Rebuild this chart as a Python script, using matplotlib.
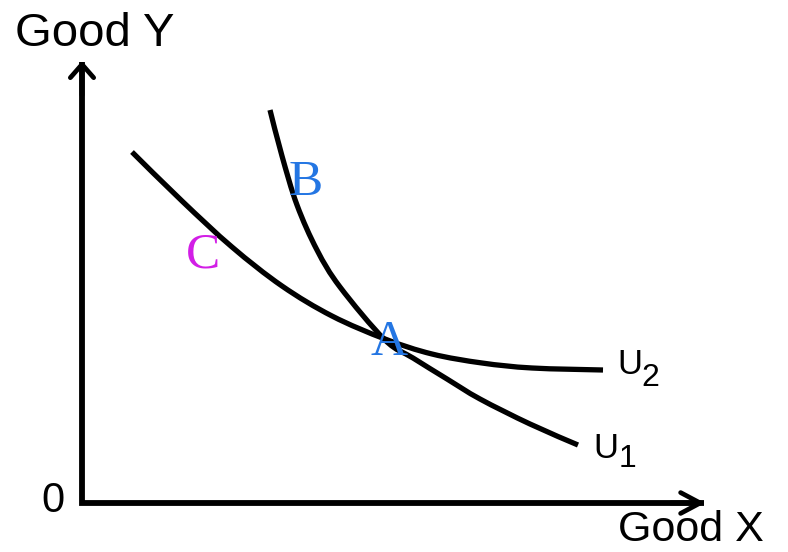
import matplotlib
matplotlib.use("Agg")
from matplotlib import pyplot as plt
from matplotlib.path import Path
from matplotlib.patches import PathPatch

# indifference curves (origin of the axes = 0,0)
u1_x = [188, 200, 215, 235, 258, 303, 331, 365, 398, 448, 496]
u1_y = [393, 347, 298, 253, 216, 163, 145, 124, 104, 79, 58]

u2_x = [50, 100, 150, 200, 250, 303, 350, 400, 450, 521]
u2_y = [351, 302, 256, 217, 187, 164, 149, 140, 135, 133]

# labelled points (A, B, C)
pt_names = ['A', 'B', 'C']
pt_x = [307, 224, 121]
pt_y = [160, 320, 248]
pt_colors = ['#2476e3', '#2476e3', '#d21ee6']

x_top = 626   # end of the x axis arrow
y_top = 445   # end of the y axis arrow


def smooth_path(xs, ys):
    # catmull-rom through the points, drawn as cubic bezier segments
    pts = list(zip(xs, ys))
    verts = [pts[0]]
    codes = [Path.MOVETO]
    for i in range(len(pts) - 1):
        p0 = pts[i - 1] if i > 0 else pts[i]
        p1 = pts[i]
        p2 = pts[i + 1]
        p3 = pts[i + 2] if i + 2 < len(pts) else pts[i + 1]
        c1 = (p1[0] + (p2[0] - p0[0]) / 6, p1[1] + (p2[1] - p0[1]) / 6)
        c2 = (p2[0] - (p3[0] - p1[0]) / 6, p2[1] - (p3[1] - p1[1]) / 6)
        verts += [c1, c2, p2]
        codes += [Path.CURVE4] * 3
    return Path(verts, codes)


fig = plt.figure(figsize=(7.88, 5.52), dpi=100)
ax = fig.add_axes([0, 0, 1, 1])
ax.set_xlim(-82, 706)
ax.set_ylim(-49, 503)
ax.axis('off')

sans = 'Liberation Sans'
serif = 'Liberation Serif'

# axes with arrows
ax.plot([0, 0, x_top - 4], [y_top - 4, 0, 0], color='black', lw=4.2,
        solid_joinstyle='miter', solid_capstyle='butt')
ax.annotate('', xy=(0, y_top), xytext=(0, y_top - 40),
            arrowprops=dict(arrowstyle='->, head_length=0.32, head_width=0.28',
                            lw=3.4, color='black', mutation_scale=30))
ax.annotate('', xy=(x_top, 0), xytext=(x_top - 40, 0),
            arrowprops=dict(arrowstyle='->, head_length=0.47, head_width=0.25',
                            lw=3.4, color='black', mutation_scale=30))

# curves
for xs, ys in [(u1_x, u1_y), (u2_x, u2_y)]:
    ax.add_patch(PathPatch(smooth_path(xs, ys), fill=False, edgecolor='black',
                           lw=3.8, capstyle='butt'))

# labels
ax.text(-67, 469, 'Good Y', fontsize=34, family=sans, ha='left', va='center')
ax.text(536, -47, 'Good X', fontsize=31, family=sans, ha='left', va='bottom')
ax.text(-29, 2, '0', fontsize=30, family=sans, ha='center', va='center')

ax.text(535, 138, 'U', fontsize=25, family=sans, ha='left', va='center')
ax.text(559, 125, '2', fontsize=23, family=sans, ha='left', va='center')
ax.text(511, 54, 'U', fontsize=25, family=sans, ha='left', va='center')
ax.text(537, 44, '1', fontsize=23, family=sans, ha='left', va='center')

for name, px, py, c in zip(pt_names, pt_x, pt_y, pt_colors):
    ax.text(px, py, name, fontsize=37, family=serif, color=c,
            ha='center', va='center')

fig.savefig('out.png', dpi=100)
